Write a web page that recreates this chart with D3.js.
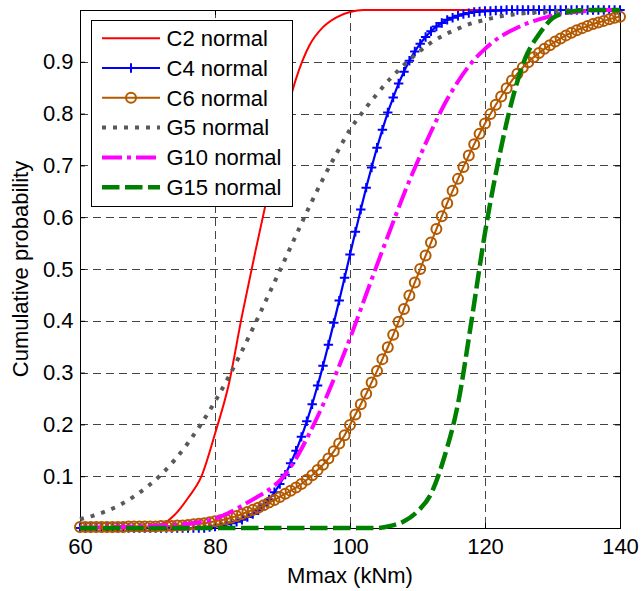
<!DOCTYPE html>
<html lang="en">
<head>
  <meta charset="UTF-8" />
  <title>Mmax cumulative probability</title>
  <script src="https://d3js.org/d3.v7.min.js"></script>
  <style>
    body { margin: 0; background: #fff; }
    svg { display: block; font-family: "Liberation Sans", Arial, sans-serif; }
    text { fill: #000; }
  </style>
</head>
<body>
  <svg id="chart" width="642" height="591"></svg>

  <script>
    // x grid of the smooth curves (step 2) and of the marker curves (step 0.8)
    const xCoarse = [60, 62, 64, 66, 68, 70, 72, 74, 76, 78,
      80, 82, 84, 86, 88, 90, 92, 94, 96, 98,
      100, 102, 104, 106, 108, 110, 112, 114, 116, 118,
      120, 122, 124, 126, 128, 130, 132, 134, 136, 138, 140];

    const xFine = [60, 60.8, 61.6, 62.4, 63.2, 64, 64.8, 65.6, 66.4, 67.2,
      68, 68.8, 69.6, 70.4, 71.2, 72, 72.8, 73.6, 74.4, 75.2,
      76, 76.8, 77.6, 78.4, 79.2, 80, 80.8, 81.6, 82.4, 83.2,
      84, 84.8, 85.6, 86.4, 87.2, 88, 88.8, 89.6, 90.4, 91.2,
      92, 92.8, 93.6, 94.4, 95.2, 96, 96.8, 97.6, 98.4, 99.2,
      100, 100.8, 101.6, 102.4, 103.2, 104, 104.8, 105.6, 106.4, 107.2,
      108, 108.8, 109.6, 110.4, 111.2, 112, 112.8, 113.6, 114.4, 115.2,
      116, 116.8, 117.6, 118.4, 119.2, 120, 120.8, 121.6, 122.4, 123.2,
      124, 124.8, 125.6, 126.4, 127.2, 128, 128.8, 129.6, 130.4, 131.2,
      132, 132.8, 133.6, 134.4, 135.2, 136, 136.8, 137.6, 138.4, 139.2, 140];

    // cumulative probabilities
    const c2Values = [0, 0, 0, 0, 0, 0.001, 0.006, 0.025, 0.058, 0.1,
      0.182, 0.275, 0.41, 0.535, 0.655, 0.77, 0.867, 0.932, 0.967, 0.986,
      0.996, 1, 1, 1, 1, 1, 1, 1, 1, 1,
      1, 1, 1, 1, 1, 1, 1, 1, 1, 1, 1];

    const c4Values = [0, 0, 0, 0, 0, 0, 0, 0, 0, 0,
      0, 0, 0, 0, 0, 0, 0, 0, 0, 0,
      0, 0, 0, 0, 0.002, 0.003, 0.005, 0.007, 0.009, 0.012,
      0.016, 0.021, 0.027, 0.034, 0.044, 0.055, 0.069, 0.085, 0.103, 0.125,
      0.149, 0.176, 0.206, 0.239, 0.275, 0.313, 0.354, 0.396, 0.439, 0.483,
      0.528, 0.572, 0.615, 0.657, 0.696, 0.734, 0.769, 0.802, 0.831, 0.858,
      0.881, 0.902, 0.92, 0.935, 0.948, 0.959, 0.968, 0.975, 0.981, 0.985,
      0.989, 0.992, 0.994, 0.996, 0.997, 0.998, 0.998, 0.999, 0.999, 1,
      1, 1, 1, 1, 1, 1, 1, 1, 1, 1,
      1, 1, 1, 1, 1, 1, 1, 1, 1, 1, 1];

    const c6Values = [0.002, 0.002, 0.002, 0.002, 0.002, 0.002, 0.002, 0.002, 0.002, 0.003,
      0.003, 0.003, 0.003, 0.003, 0.003, 0.004, 0.004, 0.004, 0.005, 0.005,
      0.006, 0.007, 0.008, 0.009, 0.011, 0.013, 0.015, 0.017, 0.02, 0.023,
      0.027, 0.031, 0.035, 0.039, 0.044, 0.049, 0.054, 0.06, 0.066, 0.072,
      0.078, 0.085, 0.093, 0.102, 0.112, 0.122, 0.134, 0.148, 0.163, 0.179,
      0.199, 0.219, 0.239, 0.259, 0.281, 0.303, 0.326, 0.349, 0.373, 0.398,
      0.423, 0.449, 0.474, 0.5, 0.526, 0.551, 0.577, 0.602, 0.627, 0.651,
      0.674, 0.697, 0.719, 0.741, 0.761, 0.781, 0.799, 0.817, 0.833, 0.849,
      0.864, 0.877, 0.889, 0.899, 0.909, 0.917, 0.925, 0.932, 0.939, 0.945,
      0.951, 0.956, 0.961, 0.965, 0.969, 0.973, 0.976, 0.979, 0.982, 0.985, 0.987];

    const g5Values = [0.017, 0.024, 0.033, 0.045, 0.061, 0.08, 0.103, 0.131, 0.164, 0.202,
      0.244, 0.291, 0.342, 0.396, 0.452, 0.508, 0.565, 0.621, 0.674, 0.723,
      0.769, 0.805, 0.838, 0.868, 0.894, 0.917, 0.937, 0.952, 0.964, 0.974,
      0.981, 0.987, 0.991, 0.994, 0.996, 0.998, 0.999, 1, 1, 1, 1];

    const g10Values = [0.001, 0.001, 0.002, 0.002, 0.003, 0.004, 0.005, 0.006, 0.008, 0.012,
      0.018, 0.029, 0.043, 0.058, 0.074, 0.097, 0.134, 0.183, 0.238, 0.3,
      0.366, 0.437, 0.508, 0.577, 0.645, 0.707, 0.765, 0.818, 0.862, 0.898,
      0.925, 0.946, 0.961, 0.973, 0.982, 0.989, 0.994, 0.997, 0.999, 1, 1];

    const g15Values = [0, 0, 0, 0, 0, 0, 0, 0, 0, 0,
      0, 0, 0, 0, 0, 0, 0, 0, 0, 0,
      0, 0, 0, 0.004, 0.013, 0.032, 0.066, 0.138, 0.24, 0.4,
      0.57, 0.71, 0.825, 0.908, 0.953, 0.984, 0.995, 0.999, 1, 1, 1];

    const seriesNames = ["C2 normal", "C4 normal", "C6 normal", "G5 normal", "G10 normal", "G15 normal"];
    const xTicks = [60, 80, 100, 120, 140];
    const yTicks = [0.1, 0.2, 0.3, 0.4, 0.5, 0.6, 0.7, 0.8, 0.9];

    // drawing style of each series
    const styles = [
      { color: "#ff0000", width: 2, dash: null, marker: null },
      { color: "#0000ff", width: 2.2, dash: null, marker: "plus" },
      { color: "#b35900", width: 2, dash: null, marker: "circle" },
      { color: "#595959", width: 4, dash: "4,7", marker: null },
      { color: "#ff00ff", width: 4, dash: "20,5,4,5", marker: null },
      { color: "#008000", width: 4.5, dash: "17.5,5.5", marker: null }
    ];

    const series = [
      { xs: xCoarse, ys: c2Values },
      { xs: xFine, ys: c4Values },
      { xs: xFine, ys: c6Values },
      { xs: xCoarse, ys: g5Values },
      { xs: xCoarse, ys: g10Values },
      { xs: xCoarse, ys: g15Values }
    ].map((s, i) => ({
      name: seriesNames[i],
      style: styles[i],
      points: s.xs.map((v, j) => [v, s.ys[j]])
    }));

    const svg = d3.select("#chart");
    const plot = { left: 80, right: 620, top: 10, bottom: 528 };

    const x = d3.scaleLinear().domain([60, 140]).range([plot.left, plot.right]);
    const y = d3.scaleLinear().domain([0, 1]).range([plot.bottom, plot.top]);

    // dashed grid
    const grid = svg.append("g")
      .attr("stroke", "#444")
      .attr("stroke-width", 1)
      .attr("stroke-dasharray", "8,5");

    grid.selectAll("line.v").data(xTicks.slice(1, -1)).join("line")
      .attr("class", "v")
      .attr("x1", d => Math.round(x(d)) + 0.5).attr("x2", d => Math.round(x(d)) + 0.5)
      .attr("y1", plot.top).attr("y2", plot.bottom);

    grid.selectAll("line.h").data(yTicks).join("line")
      .attr("class", "h")
      .attr("y1", d => Math.round(y(d)) + 0.5).attr("y2", d => Math.round(y(d)) + 0.5)
      .attr("x1", plot.left).attr("x2", plot.right);

    // axes: inward ticks, labels outside
    const fmt = d3.format("");
    svg.append("g")
      .attr("transform", `translate(0,${plot.bottom})`)
      .call(d3.axisBottom(x).tickValues(xTicks).tickFormat(fmt).tickSizeInner(-5).tickSizeOuter(0).tickPadding(10.5))
      .call(g => g.select(".domain").remove());

    svg.append("g")
      .attr("transform", `translate(${plot.left},0)`)
      .call(d3.axisLeft(y).tickValues(yTicks).tickFormat(d3.format(".1f")).tickSizeInner(-5).tickSizeOuter(0).tickPadding(6.5))
      .call(g => g.select(".domain").remove());

    svg.append("g")
      .attr("transform", `translate(0,${plot.top})`)
      .call(d3.axisTop(x).tickValues(xTicks).tickFormat("").tickSizeInner(-5).tickSizeOuter(0))
      .call(g => g.select(".domain").remove());

    svg.append("g")
      .attr("transform", `translate(${plot.right},0)`)
      .call(d3.axisRight(y).tickValues(yTicks).tickFormat("").tickSizeInner(-5).tickSizeOuter(0))
      .call(g => g.select(".domain").remove());

    svg.selectAll(".tick text")
      .attr("font-size", 22)
      .attr("font-family", "'Liberation Sans', Arial, sans-serif")
      .attr("fill", "#000");
    svg.selectAll(".tick line").attr("stroke", "#000");

    // axis box
    svg.append("rect")
      .attr("x", plot.left + 0.5).attr("y", plot.top + 0.5)
      .attr("width", plot.right - plot.left).attr("height", plot.bottom - plot.top)
      .attr("fill", "none").attr("stroke", "#000").attr("stroke-width", 1);

    // curves
    const line = d3.line()
      .x(d => x(d[0]))
      .y(d => y(d[1]))
      .curve(d3.curveMonotoneX);

    function drawMarkers(g, pts, st, px, py) {
      if (st.marker === "plus") {
        g.selectAll("path.mk").data(pts).join("path")
          .attr("class", "mk")
          .attr("d", d => `M${px(d) - 4.7},${py(d)}h9.4M${px(d)},${py(d) - 4.7}v9.4`)
          .attr("fill", "none").attr("stroke", st.color).attr("stroke-width", 2);
      } else if (st.marker === "circle") {
        g.selectAll("circle.mk").data(pts).join("circle")
          .attr("class", "mk")
          .attr("cx", px).attr("cy", py).attr("r", 5)
          .attr("fill", "none").attr("stroke", st.color).attr("stroke-width", 2);
      }
    }

    series.forEach(s => {
      const g = svg.append("g");
      g.append("path")
        .datum(s.points)
        .attr("d", line)
        .attr("fill", "none")
        .attr("stroke", s.style.color)
        .attr("stroke-width", s.style.width)
        .attr("stroke-dasharray", s.style.dash)
        .attr("stroke-linecap", "butt")
        .attr("stroke-linejoin", "round");
      drawMarkers(g, s.points, s.style, d => x(d[0]), d => y(d[1]));
    });

    // legend
    const legend = svg.append("g");
    legend.append("rect")
      .attr("x", 91.5).attr("y", 20.5)
      .attr("width", 201).attr("height", 186)
      .attr("fill", "#fff").attr("stroke", "#000").attr("stroke-width", 1);

    series.forEach((s, i) => {
      const cy = 38.2 + i * 29.8;
      const row = legend.append("g");
      row.append("line")
        .attr("x1", 102).attr("x2", 160)
        .attr("y1", cy).attr("y2", cy)
        .attr("stroke", s.style.color)
        .attr("stroke-width", s.style.width)
        .attr("stroke-dasharray", s.style.dash);
      drawMarkers(row, [[131, cy]], s.style, d => d[0], d => d[1]);
      row.append("text")
        .attr("x", 166.5).attr("y", cy)
        .attr("dy", "0.35em")
        .attr("font-size", 22)
        .text(s.name);
    });

    // axis titles
    svg.append("text")
      .attr("x", (plot.left + plot.right) / 2)
      .attr("y", 583)
      .attr("text-anchor", "middle")
      .attr("font-size", 22)
      .text("Mmax (kNm)");

    svg.append("text")
      .attr("transform", `translate(28,${(plot.top + plot.bottom) / 2}) rotate(-90)`)
      .attr("text-anchor", "middle")
      .attr("font-size", 22)
      .text("Cumulative probability");
  </script>
</body>
</html>
